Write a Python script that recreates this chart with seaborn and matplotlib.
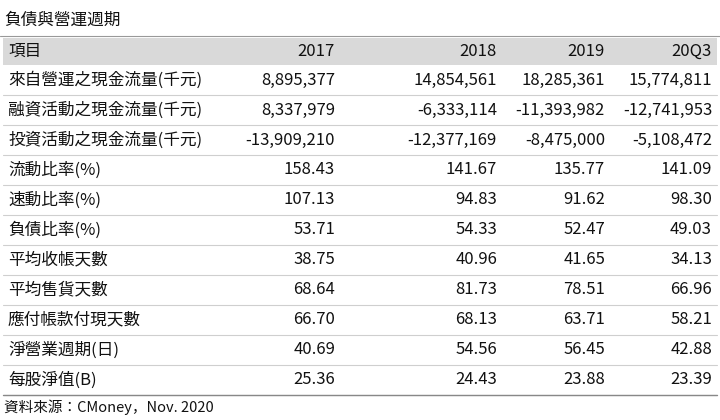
import matplotlib
matplotlib.use("Agg")
import matplotlib.pyplot as plt
import seaborn as sns

sns.set_theme(style="white")
plt.rcParams["font.family"] = ["Noto Sans CJK TC", "Noto Sans CJK JP", "Noto Sans CJK SC",
                               "Noto Sans CJK KR", "DejaVu Sans"]

title = "負債與營運週期"
columns = ["2017", "2018", "2019", "20Q3"]
row_labels = ["來自營運之現金流量(千元)", "融資活動之現金流量(千元)", "投資活動之現金流量(千元)",
              "流動比率(%)", "速動比率(%)", "負債比率(%)", "平均收帳天數", "平均售貨天數",
              "應付帳款付現天數", "淨營業週期(日)", "每股淨值(B)"]
values = [
    ["8,895,377", "14,854,561", "18,285,361", "15,774,811"],
    ["8,337,979", "-6,333,114", "-11,393,982", "-12,741,953"],
    ["-13,909,210", "-12,377,169", "-8,475,000", "-5,108,472"],
    ["158.43", "141.67", "135.77", "141.09"],
    ["107.13", "94.83", "91.62", "98.30"],
    ["53.71", "54.33", "52.47", "49.03"],
    ["38.75", "40.96", "41.65", "34.13"],
    ["68.64", "81.73", "78.51", "66.96"],
    ["66.70", "68.13", "63.71", "58.21"],
    ["40.69", "54.56", "56.45", "42.88"],
    ["25.36", "24.43", "23.88", "23.39"],
]
source = "資料來源：CMoney，Nov. 2020"

fig = plt.figure(figsize=(7.2, 4.2), dpi=100)
ax = fig.add_axes([0, 0, 1, 1])
ax.set_xlim(0, 720)
ax.set_ylim(420, 0)
ax.axis("off")

col_x = [335, 497, 605, 712]
fs = 12
ax.text(4, 20, title, fontsize=fs, va="center", ha="left", color="#111")
ax.axhline(36, color="#999", lw=0.8)
ax.add_patch(plt.Rectangle((3, 38), 714, 27, color="#d9d9d9", lw=0))
ax.text(8, 51, "項目", fontsize=fs, va="center", color="#111")
for x, c in zip(col_x, columns):
    ax.text(x, 51, c, fontsize=fs, va="center", ha="right", color="#111")

y0, dy = 80, 30
for i, (lab, vals) in enumerate(zip(row_labels, values)):
    y = y0 + i * dy
    ax.text(8, y, lab, fontsize=fs, va="center", ha="left", color="#111")
    for x, v in zip(col_x, vals):
        ax.text(x, y, v, fontsize=fs, va="center", ha="right", color="#111")
    ax.plot([3, 717], [y + dy / 2, y + dy / 2], color="#cfcfcf", lw=0.8)
ax.plot([3, 717], [y0 + 10 * dy + dy / 2] * 2, color="#888", lw=1)
ax.text(4, 407, source, fontsize=10.5, va="center", ha="left", color="#111")

fig.savefig("out.png", dpi=100)
